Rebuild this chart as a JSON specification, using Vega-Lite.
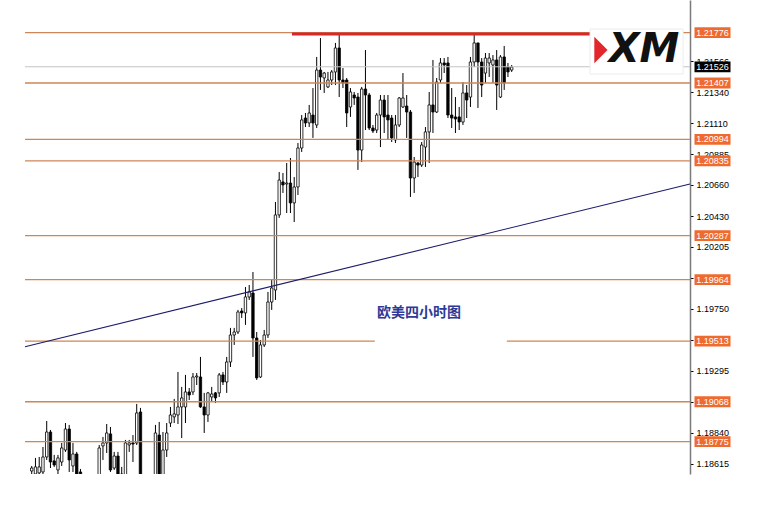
{
  "$schema": "https://vega.github.io/schema/vega-lite/v6.json",
  "width": 665,
  "height": 474,
  "padding": {"left": 25, "top": 0, "right": 74, "bottom": 41},
  "autosize": {"type": "none"},
  "background": "white",
  "view": {"stroke": null},
  "config": {"axis": {"labelFont": "Liberation Sans"}, "scale": {"continuousPadding": 0}},
  "datasets": {
    "candles": [
      {"i":0,"o":1.18560,"h":1.18597,"l":1.18538,"c":1.18582},
      {"i":1,"o":1.18538,"h":1.18656,"l":1.18509,"c":1.18590},
      {"i":2,"o":1.18546,"h":1.18663,"l":1.18524,"c":1.18590},
      {"i":3,"o":1.18553,"h":1.18736,"l":1.18538,"c":1.18663},
      {"i":4,"o":1.18663,"h":1.18927,"l":1.18641,"c":1.18846},
      {"i":5,"o":1.18846,"h":1.18861,"l":1.18582,"c":1.18626},
      {"i":6,"o":1.18634,"h":1.18678,"l":1.18590,"c":1.18604},
      {"i":7,"o":1.18568,"h":1.18678,"l":1.18524,"c":1.18656},
      {"i":8,"o":1.18626,"h":1.18766,"l":1.18597,"c":1.18729},
      {"i":9,"o":1.18714,"h":1.18912,"l":1.18700,"c":1.18868},
      {"i":10,"o":1.18868,"h":1.18898,"l":1.18553,"c":1.18641},
      {"i":11,"o":1.18597,"h":1.18766,"l":1.18553,"c":1.18685},
      {"i":12,"o":1.18685,"h":1.18700,"l":1.18494,"c":1.18524},
      {"i":13,"o":1.18553,"h":1.18575,"l":1.18465,"c":1.18494},
      {"i":14,"o":1.18494,"h":1.18520,"l":1.18400,"c":1.18430},
      {"i":15,"o":1.18430,"h":1.18500,"l":1.18380,"c":1.18470},
      {"i":16,"o":1.18470,"h":1.18510,"l":1.18390,"c":1.18420},
      {"i":17,"o":1.18420,"h":1.18525,"l":1.18400,"c":1.18500},
      {"i":18,"o":1.18494,"h":1.18751,"l":1.18465,"c":1.18729},
      {"i":19,"o":1.18744,"h":1.18810,"l":1.18641,"c":1.18766},
      {"i":20,"o":1.18766,"h":1.18905,"l":1.18692,"c":1.18839},
      {"i":21,"o":1.18832,"h":1.18883,"l":1.18553,"c":1.18568},
      {"i":22,"o":1.18582,"h":1.18700,"l":1.18568,"c":1.18670},
      {"i":23,"o":1.18670,"h":1.18700,"l":1.18509,"c":1.18538},
      {"i":24,"o":1.18538,"h":1.18590,"l":1.18465,"c":1.18494},
      {"i":25,"o":1.18509,"h":1.18788,"l":1.18480,"c":1.18766},
      {"i":26,"o":1.18751,"h":1.18788,"l":1.18700,"c":1.18766},
      {"i":27,"o":1.18766,"h":1.18824,"l":1.18626,"c":1.18758},
      {"i":28,"o":1.18766,"h":1.19052,"l":1.18751,"c":1.18986},
      {"i":29,"o":1.18993,"h":1.19023,"l":1.18480,"c":1.18509},
      {"i":30,"o":1.18509,"h":1.18525,"l":1.18440,"c":1.18470},
      {"i":31,"o":1.18470,"h":1.18520,"l":1.18420,"c":1.18500},
      {"i":32,"o":1.18500,"h":1.18530,"l":1.18460,"c":1.18520},
      {"i":33,"o":1.18524,"h":1.18898,"l":1.18509,"c":1.18839},
      {"i":34,"o":1.18824,"h":1.18920,"l":1.18494,"c":1.18524},
      {"i":35,"o":1.18524,"h":1.18846,"l":1.18509,"c":1.18714},
      {"i":36,"o":1.18714,"h":1.18912,"l":1.18663,"c":1.18839},
      {"i":37,"o":1.18912,"h":1.19030,"l":1.18883,"c":1.18971},
      {"i":38,"o":1.18957,"h":1.19089,"l":1.18912,"c":1.18979},
      {"i":39,"o":1.18971,"h":1.19287,"l":1.18905,"c":1.19030},
      {"i":40,"o":1.19030,"h":1.19177,"l":1.18802,"c":1.19096},
      {"i":41,"o":1.19030,"h":1.19265,"l":1.18912,"c":1.19140},
      {"i":42,"o":1.19140,"h":1.19169,"l":1.19081,"c":1.19118},
      {"i":43,"o":1.19140,"h":1.19279,"l":1.19118,"c":1.19250},
      {"i":44,"o":1.19250,"h":1.19279,"l":1.19191,"c":1.19257},
      {"i":45,"o":1.19250,"h":1.19397,"l":1.19023,"c":1.19030},
      {"i":46,"o":1.19030,"h":1.19133,"l":1.18839,"c":1.18971},
      {"i":47,"o":1.18971,"h":1.19140,"l":1.18920,"c":1.19133},
      {"i":48,"o":1.19103,"h":1.19177,"l":1.19067,"c":1.19125},
      {"i":49,"o":1.19133,"h":1.19140,"l":1.19059,"c":1.19096},
      {"i":50,"o":1.19133,"h":1.19279,"l":1.19103,"c":1.19265},
      {"i":51,"o":1.19265,"h":1.19287,"l":1.19191,"c":1.19213},
      {"i":52,"o":1.19213,"h":1.19397,"l":1.19133,"c":1.19360},
      {"i":53,"o":1.19360,"h":1.19610,"l":1.19323,"c":1.19558},
      {"i":54,"o":1.19558,"h":1.19610,"l":1.19485,"c":1.19580},
      {"i":55,"o":1.19580,"h":1.19742,"l":1.19565,"c":1.19727},
      {"i":56,"o":1.19734,"h":1.19756,"l":1.19683,"c":1.19720},
      {"i":57,"o":1.19720,"h":1.19910,"l":1.19632,"c":1.19837},
      {"i":58,"o":1.19837,"h":1.19925,"l":1.19815,"c":1.19874},
      {"i":59,"o":1.19866,"h":1.20020,"l":1.19397,"c":1.19536},
      {"i":60,"o":1.19536,"h":1.19580,"l":1.19228,"c":1.19243},
      {"i":61,"o":1.19250,"h":1.19521,"l":1.19243,"c":1.19485},
      {"i":62,"o":1.19485,"h":1.19595,"l":1.19470,"c":1.19558},
      {"i":63,"o":1.19558,"h":1.19874,"l":1.19536,"c":1.19800},
      {"i":64,"o":1.19800,"h":1.19962,"l":1.19742,"c":1.19903},
      {"i":65,"o":1.19888,"h":1.20534,"l":1.19815,"c":1.20439},
      {"i":66,"o":1.20439,"h":1.20754,"l":1.20417,"c":1.20695},
      {"i":67,"o":1.20681,"h":1.20747,"l":1.20600,"c":1.20659},
      {"i":68,"o":1.20666,"h":1.20820,"l":1.20453,"c":1.20673},
      {"i":69,"o":1.20673,"h":1.20857,"l":1.20453,"c":1.20527},
      {"i":70,"o":1.20527,"h":1.20717,"l":1.20387,"c":1.20644},
      {"i":71,"o":1.20644,"h":1.20967,"l":1.20585,"c":1.20930},
      {"i":72,"o":1.20930,"h":1.21172,"l":1.20901,"c":1.21136},
      {"i":73,"o":1.21150,"h":1.21187,"l":1.21084,"c":1.21114},
      {"i":74,"o":1.21114,"h":1.21246,"l":1.21084,"c":1.21187},
      {"i":75,"o":1.21172,"h":1.21370,"l":1.21004,"c":1.21114},
      {"i":76,"o":1.21099,"h":1.21598,"l":1.21077,"c":1.21502},
      {"i":77,"o":1.21502,"h":1.21737,"l":1.21356,"c":1.21451},
      {"i":78,"o":1.21444,"h":1.21488,"l":1.21334,"c":1.21480},
      {"i":79,"o":1.21378,"h":1.21488,"l":1.21370,"c":1.21429},
      {"i":80,"o":1.21429,"h":1.21502,"l":1.21392,"c":1.21488},
      {"i":81,"o":1.21488,"h":1.21701,"l":1.21392,"c":1.21664},
      {"i":82,"o":1.21664,"h":1.21759,"l":1.21304,"c":1.21429},
      {"i":83,"o":1.21429,"h":1.21517,"l":1.21370,"c":1.21407},
      {"i":84,"o":1.21429,"h":1.21444,"l":1.21084,"c":1.21187},
      {"i":85,"o":1.21231,"h":1.21370,"l":1.21158,"c":1.21341},
      {"i":86,"o":1.21319,"h":1.21341,"l":1.21246,"c":1.21297},
      {"i":87,"o":1.21304,"h":1.21334,"l":1.20769,"c":1.20915},
      {"i":88,"o":1.20915,"h":1.21378,"l":1.20827,"c":1.21363},
      {"i":89,"o":1.21363,"h":1.21649,"l":1.21062,"c":1.21319},
      {"i":90,"o":1.21319,"h":1.21334,"l":1.21062,"c":1.21077},
      {"i":91,"o":1.21077,"h":1.21099,"l":1.21040,"c":1.21055},
      {"i":92,"o":1.21062,"h":1.21187,"l":1.21040,"c":1.21172},
      {"i":93,"o":1.21172,"h":1.21319,"l":1.20937,"c":1.21282},
      {"i":94,"o":1.21282,"h":1.21319,"l":1.21040,"c":1.21158},
      {"i":95,"o":1.21172,"h":1.21319,"l":1.20989,"c":1.21136},
      {"i":96,"o":1.21150,"h":1.21172,"l":1.20974,"c":1.21004},
      {"i":97,"o":1.20989,"h":1.21172,"l":1.20967,"c":1.21099},
      {"i":98,"o":1.21099,"h":1.21304,"l":1.21084,"c":1.21297},
      {"i":99,"o":1.21231,"h":1.21480,"l":1.21224,"c":1.21297},
      {"i":100,"o":1.21238,"h":1.21319,"l":1.21004,"c":1.21194},
      {"i":101,"o":1.21194,"h":1.21209,"l":1.20571,"c":1.20710},
      {"i":102,"o":1.20710,"h":1.20864,"l":1.20600,"c":1.20827},
      {"i":103,"o":1.20820,"h":1.20827,"l":1.20717,"c":1.20805},
      {"i":104,"o":1.20805,"h":1.20974,"l":1.20791,"c":1.20952},
      {"i":105,"o":1.20937,"h":1.21084,"l":1.20791,"c":1.21048},
      {"i":106,"o":1.21048,"h":1.21341,"l":1.20820,"c":1.21246},
      {"i":107,"o":1.21246,"h":1.21576,"l":1.21040,"c":1.21194},
      {"i":108,"o":1.21194,"h":1.21444,"l":1.21187,"c":1.21414},
      {"i":109,"o":1.21429,"h":1.21590,"l":1.21407,"c":1.21554},
      {"i":110,"o":1.21554,"h":1.21590,"l":1.21480,"c":1.21539},
      {"i":111,"o":1.21554,"h":1.21598,"l":1.21150,"c":1.21172},
      {"i":112,"o":1.21172,"h":1.21370,"l":1.21077,"c":1.21150},
      {"i":113,"o":1.21158,"h":1.21304,"l":1.21040,"c":1.21143},
      {"i":114,"o":1.21158,"h":1.21231,"l":1.21062,"c":1.21121},
      {"i":115,"o":1.21121,"h":1.21414,"l":1.21099,"c":1.21334},
      {"i":116,"o":1.21334,"h":1.21392,"l":1.21150,"c":1.21282},
      {"i":117,"o":1.21304,"h":1.21598,"l":1.21231,"c":1.21561},
      {"i":118,"o":1.21561,"h":1.21770,"l":1.21524,"c":1.21701},
      {"i":119,"o":1.21701,"h":1.21701,"l":1.21224,"c":1.21561},
      {"i":120,"o":1.21561,"h":1.21590,"l":1.21304,"c":1.21392},
      {"i":121,"o":1.21480,"h":1.21627,"l":1.21407,"c":1.21590},
      {"i":122,"o":1.21554,"h":1.21627,"l":1.21451,"c":1.21590},
      {"i":123,"o":1.21539,"h":1.21612,"l":1.21407,"c":1.21576},
      {"i":124,"o":1.21576,"h":1.21649,"l":1.21209,"c":1.21392},
      {"i":125,"o":1.21304,"h":1.21612,"l":1.21297,"c":1.21598},
      {"i":126,"o":1.21598,"h":1.21679,"l":1.21356,"c":1.21407},
      {"i":127,"o":1.21524,"h":1.21554,"l":1.21451,"c":1.21488},
      {"i":128,"o":1.21502,"h":1.21539,"l":1.21488,"c":1.21524}
    ],
    "levels": [
      {"p":1.21776},{"p":1.21407},{"p":1.20994},{"p":1.20835},{"p":1.20287},{"p":1.19964},{"p":1.19068},{"p":1.18775}
    ],
    "split": [
      {"a":-1.79,"b":91.5,"p":1.19513},
      {"a":126.7,"b":175.55,"p":1.19513}
    ],
    "trend": [
      {"i":-1.79,"p":1.19472},
      {"i":175.55,"p":1.20666}
    ],
    "resist": [
      {"a":69.4,"b":148.9,"p":1.21766}
    ],
    "tags": [
      {"p":1.21776,"k":"o"},{"p":1.21526,"k":"b"},{"p":1.21407,"k":"o"},{"p":1.20994,"k":"o"},{"p":1.20835,"k":"o"},
      {"p":1.20287,"k":"o"},{"p":1.19964,"k":"o"},{"p":1.19513,"k":"o"},{"p":1.19068,"k":"o"},{"p":1.18775,"k":"o"}
    ],
    "logobox": [{"a":148.9,"b":173.7,"p1":1.21803,"p2":1.21473}],
    "note": [{"i":103.3,"p":1.19720,"t":"欧美四小时图"}],
    "logo": [{"i":163.3,"p":1.21561,"t":"XM"}],
    "mark": [{"i":151.8,"p":1.21649}]
  },
  "layer": [
    {
      "data": {"name": "candles"},
      "mark": {"type": "rule", "color": "#000000", "strokeWidth": 1, "clip": true},
      "encoding": {
        "x": {"field": "i", "type": "quantitative", "scale": {"domain": [-1.79, 175.55], "nice": false, "zero": false, "padding": 0}, "axis": null},
        "y": {"field": "l", "type": "quantitative", "scale": {"domain": [1.18538, 1.22016], "nice": false, "zero": false},
          "axis": {"orient": "right", "title": null, "values": [1.18615,1.1884,1.19065,1.19295,1.1952,1.1975,1.19975,1.20205,1.2043,1.2066,1.20885,1.2111,1.2134,1.21566],
            "format": ".5f", "labelFontSize": 9, "labelColor": "#000000", "tickSize": 3, "tickColor": "#000000", "domainColor": "#7a7a7a", "domainWidth": 1.5, "labelPadding": 3, "grid": false}},
        "y2": {"field": "h"}
      }
    },
    {
      "data": {"name": "candles"},
      "mark": {"type": "bar", "size": 2.4, "stroke": "#000000", "strokeWidth": 0.8, "clip": true},
      "encoding": {
        "x": {"field": "i", "type": "quantitative", "scale": {"domain": [-1.79, 175.55], "nice": false, "zero": false, "padding": 0}, "axis": null},
        "y": {"field": "o", "type": "quantitative", "scale": {"domain": [1.18538, 1.22016], "nice": false, "zero": false},
          "axis": {"orient": "right", "title": null, "values": [1.18615,1.1884,1.19065,1.19295,1.1952,1.1975,1.19975,1.20205,1.2043,1.2066,1.20885,1.2111,1.2134,1.21566],
            "format": ".5f", "labelFontSize": 9, "labelColor": "#000000", "tickSize": 3, "tickColor": "#000000", "domainColor": "#7a7a7a", "domainWidth": 1.5, "labelPadding": 3, "grid": false}},
        "y2": {"field": "c"},
        "fill": {"condition": {"test": "datum.c < datum.o", "value": "#000000"}, "value": "#ffffff"}
      }
    },
    {
      "data": {"name": "levels"},
      "mark": {"type": "rule", "color": "#cd8655", "strokeWidth": 1.3},
      "encoding": {
        "y": {"field": "p", "type": "quantitative", "scale": {"domain": [1.18538, 1.22016], "nice": false, "zero": false},
          "axis": {"orient": "right", "title": null, "values": [1.18615,1.1884,1.19065,1.19295,1.1952,1.1975,1.19975,1.20205,1.2043,1.2066,1.20885,1.2111,1.2134,1.21566],
            "format": ".5f", "labelFontSize": 9, "labelColor": "#000000", "tickSize": 3, "tickColor": "#000000", "domainColor": "#7a7a7a", "domainWidth": 1.5, "labelPadding": 3, "grid": false}}
      }
    },
    {
      "data": {"name": "split"},
      "mark": {"type": "rule", "color": "#cd8655", "strokeWidth": 1.3},
      "encoding": {
        "x": {"field": "a", "type": "quantitative", "scale": {"domain": [-1.79, 175.55], "nice": false, "zero": false, "padding": 0}, "axis": null},
        "x2": {"field": "b"},
        "y": {"field": "p", "type": "quantitative", "scale": {"domain": [1.18538, 1.22016], "nice": false, "zero": false},
          "axis": {"orient": "right", "title": null, "values": [1.18615,1.1884,1.19065,1.19295,1.1952,1.1975,1.19975,1.20205,1.2043,1.2066,1.20885,1.2111,1.2134,1.21566],
            "format": ".5f", "labelFontSize": 9, "labelColor": "#000000", "tickSize": 3, "tickColor": "#000000", "domainColor": "#7a7a7a", "domainWidth": 1.5, "labelPadding": 3, "grid": false}}
      }
    },
    {
      "data": {"values": [{"p": 1.21526}]},
      "mark": {"type": "rule", "color": "#c4c4c4", "strokeWidth": 1},
      "encoding": {
        "y": {"field": "p", "type": "quantitative", "scale": {"domain": [1.18538, 1.22016], "nice": false, "zero": false},
          "axis": {"orient": "right", "title": null, "values": [1.18615,1.1884,1.19065,1.19295,1.1952,1.1975,1.19975,1.20205,1.2043,1.2066,1.20885,1.2111,1.2134,1.21566],
            "format": ".5f", "labelFontSize": 9, "labelColor": "#000000", "tickSize": 3, "tickColor": "#000000", "domainColor": "#7a7a7a", "domainWidth": 1.5, "labelPadding": 3, "grid": false}}
      }
    },
    {
      "data": {"name": "trend"},
      "mark": {"type": "line", "color": "#1c1c6b", "strokeWidth": 1.1},
      "encoding": {
        "x": {"field": "i", "type": "quantitative", "scale": {"domain": [-1.79, 175.55], "nice": false, "zero": false, "padding": 0}, "axis": null},
        "y": {"field": "p", "type": "quantitative", "scale": {"domain": [1.18538, 1.22016], "nice": false, "zero": false},
          "axis": {"orient": "right", "title": null, "values": [1.18615,1.1884,1.19065,1.19295,1.1952,1.1975,1.19975,1.20205,1.2043,1.2066,1.20885,1.2111,1.2134,1.21566],
            "format": ".5f", "labelFontSize": 9, "labelColor": "#000000", "tickSize": 3, "tickColor": "#000000", "domainColor": "#7a7a7a", "domainWidth": 1.5, "labelPadding": 3, "grid": false}}
      }
    },
    {
      "data": {"name": "resist"},
      "mark": {"type": "rule", "color": "#d9262c", "strokeWidth": 3},
      "encoding": {
        "x": {"field": "a", "type": "quantitative", "scale": {"domain": [-1.79, 175.55], "nice": false, "zero": false, "padding": 0}, "axis": null},
        "x2": {"field": "b"},
        "y": {"field": "p", "type": "quantitative", "scale": {"domain": [1.18538, 1.22016], "nice": false, "zero": false},
          "axis": {"orient": "right", "title": null, "values": [1.18615,1.1884,1.19065,1.19295,1.1952,1.1975,1.19975,1.20205,1.2043,1.2066,1.20885,1.2111,1.2134,1.21566],
            "format": ".5f", "labelFontSize": 9, "labelColor": "#000000", "tickSize": 3, "tickColor": "#000000", "domainColor": "#7a7a7a", "domainWidth": 1.5, "labelPadding": 3, "grid": false}}
      }
    },
    {
      "data": {"name": "logobox"},
      "mark": {"type": "rect", "fill": "#ffffff", "stroke": "#ececec", "strokeWidth": 1},
      "encoding": {
        "x": {"field": "a", "type": "quantitative", "scale": {"domain": [-1.79, 175.55], "nice": false, "zero": false, "padding": 0}, "axis": null},
        "x2": {"field": "b"},
        "y": {"field": "p1", "type": "quantitative", "scale": {"domain": [1.18538, 1.22016], "nice": false, "zero": false},
          "axis": {"orient": "right", "title": null, "values": [1.18615,1.1884,1.19065,1.19295,1.1952,1.1975,1.19975,1.20205,1.2043,1.2066,1.20885,1.2111,1.2134,1.21566],
            "format": ".5f", "labelFontSize": 9, "labelColor": "#000000", "tickSize": 3, "tickColor": "#000000", "domainColor": "#7a7a7a", "domainWidth": 1.5, "labelPadding": 3, "grid": false}},
        "y2": {"field": "p2"}
      }
    },
    {
      "data": {"name": "mark"},
      "mark": {"type": "point", "shape": "M-0.5,-1L0.5,0L-0.5,1Z", "size": 700, "filled": true, "color": "#e3262b", "opacity": 1},
      "encoding": {
        "x": {"field": "i", "type": "quantitative", "scale": {"domain": [-1.79, 175.55], "nice": false, "zero": false, "padding": 0}, "axis": null},
        "y": {"field": "p", "type": "quantitative", "scale": {"domain": [1.18538, 1.22016], "nice": false, "zero": false},
          "axis": {"orient": "right", "title": null, "values": [1.18615,1.1884,1.19065,1.19295,1.1952,1.1975,1.19975,1.20205,1.2043,1.2066,1.20885,1.2111,1.2134,1.21566],
            "format": ".5f", "labelFontSize": 9, "labelColor": "#000000", "tickSize": 3, "tickColor": "#000000", "domainColor": "#7a7a7a", "domainWidth": 1.5, "labelPadding": 3, "grid": false}}
      }
    },
    {
      "data": {"name": "logo"},
      "mark": {"type": "text", "font": "DejaVu Sans", "fontWeight": "bold", "fontStyle": "italic", "fontSize": 40, "color": "#111111", "align": "center", "baseline": "alphabetic"},
      "encoding": {
        "x": {"field": "i", "type": "quantitative", "scale": {"domain": [-1.79, 175.55], "nice": false, "zero": false, "padding": 0}, "axis": null},
        "y": {"field": "p", "type": "quantitative", "scale": {"domain": [1.18538, 1.22016], "nice": false, "zero": false},
          "axis": {"orient": "right", "title": null, "values": [1.18615,1.1884,1.19065,1.19295,1.1952,1.1975,1.19975,1.20205,1.2043,1.2066,1.20885,1.2111,1.2134,1.21566],
            "format": ".5f", "labelFontSize": 9, "labelColor": "#000000", "tickSize": 3, "tickColor": "#000000", "domainColor": "#7a7a7a", "domainWidth": 1.5, "labelPadding": 3, "grid": false}},
        "text": {"field": "t"}
      }
    },
    {
      "data": {"name": "note"},
      "mark": {"type": "text", "font": "Noto Sans CJK SC", "fontWeight": "bold", "fontSize": 14, "color": "#2e3a96", "align": "center", "baseline": "middle"},
      "encoding": {
        "x": {"field": "i", "type": "quantitative", "scale": {"domain": [-1.79, 175.55], "nice": false, "zero": false, "padding": 0}, "axis": null},
        "y": {"field": "p", "type": "quantitative", "scale": {"domain": [1.18538, 1.22016], "nice": false, "zero": false},
          "axis": {"orient": "right", "title": null, "values": [1.18615,1.1884,1.19065,1.19295,1.1952,1.1975,1.19975,1.20205,1.2043,1.2066,1.20885,1.2111,1.2134,1.21566],
            "format": ".5f", "labelFontSize": 9, "labelColor": "#000000", "tickSize": 3, "tickColor": "#000000", "domainColor": "#7a7a7a", "domainWidth": 1.5, "labelPadding": 3, "grid": false}},
        "text": {"field": "t"}
      }
    },
    {
      "data": {"name": "tags"},
      "mark": {"type": "point", "shape": "M-1,-0.3H1V0.3H-1Z", "size": 1296, "filled": true, "opacity": 1, "xOffset": 22.5, "strokeWidth": 0},
      "encoding": {
        "x": {"datum": 175.55, "type": "quantitative", "scale": {"domain": [-1.79, 175.55], "nice": false, "zero": false, "padding": 0}, "axis": null},
        "y": {"field": "p", "type": "quantitative", "scale": {"domain": [1.18538, 1.22016], "nice": false, "zero": false},
          "axis": {"orient": "right", "title": null, "values": [1.18615,1.1884,1.19065,1.19295,1.1952,1.1975,1.19975,1.20205,1.2043,1.2066,1.20885,1.2111,1.2134,1.21566],
            "format": ".5f", "labelFontSize": 9, "labelColor": "#000000", "tickSize": 3, "tickColor": "#000000", "domainColor": "#7a7a7a", "domainWidth": 1.5, "labelPadding": 3, "grid": false}},
        "color": {"condition": {"test": "datum.k == 'b'", "value": "#000000"}, "value": "#ef6a2e"}
      }
    },
    {
      "data": {"name": "tags"},
      "mark": {"type": "text", "font": "Liberation Sans", "fontSize": 9, "color": "#ffffff", "align": "center", "baseline": "middle", "xOffset": 22.5},
      "encoding": {
        "x": {"datum": 175.55, "type": "quantitative", "scale": {"domain": [-1.79, 175.55], "nice": false, "zero": false, "padding": 0}, "axis": null},
        "y": {"field": "p", "type": "quantitative", "scale": {"domain": [1.18538, 1.22016], "nice": false, "zero": false},
          "axis": {"orient": "right", "title": null, "values": [1.18615,1.1884,1.19065,1.19295,1.1952,1.1975,1.19975,1.20205,1.2043,1.2066,1.20885,1.2111,1.2134,1.21566],
            "format": ".5f", "labelFontSize": 9, "labelColor": "#000000", "tickSize": 3, "tickColor": "#000000", "domainColor": "#7a7a7a", "domainWidth": 1.5, "labelPadding": 3, "grid": false}},
        "text": {"field": "p", "type": "quantitative", "format": ".5f"}
      }
    }
  ]
}
